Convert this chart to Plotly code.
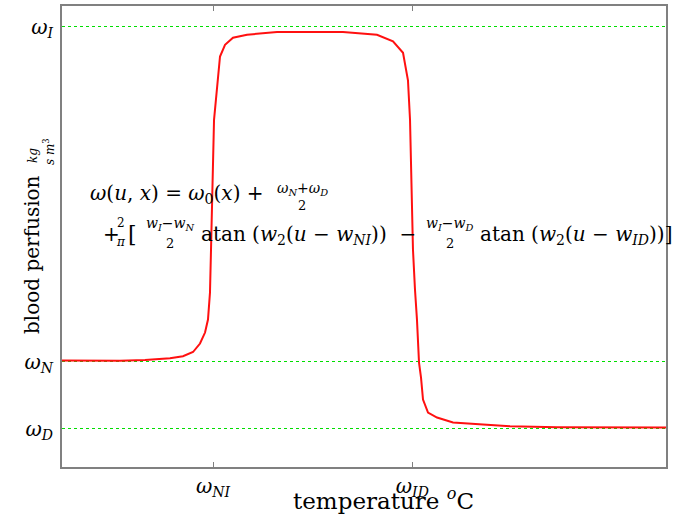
import plotly.graph_objects as go

# ---- data ----
temperature = [0, 9.6, 13.74, 17.88, 20.03, 21.69, 22.85, 23.68, 24.17, 24.5, 24.67,
               25.17, 26.16, 26.99, 28.31, 30.63, 35.6, 41.06, 46.52, 52.15, 54.8,
               56.46, 57.28, 57.62, 58.11, 58.44, 58.77, 59.11, 59.44, 59.77, 60.6,
               62.09, 64.74, 69.7, 74.17, 81.95, 90.73, 100]
perfusion = [1.015, 1.01, 1.022, 1.049, 1.079, 1.142, 1.269, 1.433, 1.627, 2.03, 2.67,
             4.61, 5.556, 5.731, 5.836, 5.881, 5.921, 5.925, 5.921, 5.881, 5.781,
             5.612, 5.201, 4.612, 2.67, 2.075, 1.627, 0.985, 0.761, 0.433, 0.239,
             0.164, 0.09, 0.06, 0.034, 0.019, 0.016, 0.015]

y_tick_vals = [0, 1, 6]
y_tick_text = ["<i>ω<sub>D</sub></i>", "<i>ω<sub>N</sub></i>", "<i>ω<sub>I</sub></i>"]
x_tick_vals = [25, 58]
x_tick_text = ["<i>ω<sub>NI</sub></i>", "<i>ω<sub>ID</sub></i>"]

FONT = "DejaVu Serif"
W, H = 687, 517
L, R, T, B = 62, 666, 6, 467


def px(x):
    return (x - L) / (R - L)


def py(y):
    return (B - y) / (B - T)


fig = go.Figure()
fig.add_trace(go.Scatter(x=temperature, y=perfusion, mode="lines",
                         line=dict(color="#ff1010", width=2), showlegend=False))

axis_common = dict(showline=True, linecolor="#808080", linewidth=2, mirror="ticks",
                   ticks="inside", ticklen=5, tickcolor="#808080", zeroline=False,
                   automargin=False,
                   tickfont=dict(family=FONT, size=20, color="black"))
fig.update_xaxes(range=[0, 100], tickvals=x_tick_vals, ticktext=x_tick_text,
                 showgrid=False, ticklabelstandoff=0, **axis_common)
fig.update_yaxes(range=[-0.575, 6.31], tickvals=y_tick_vals, ticktext=y_tick_text,
                 showgrid=True, gridcolor="#00dd00", griddash="dot", gridwidth=1,
                 ticklabelstandoff=3, **axis_common)
fig.update_yaxes(ticks="")

ann = []


def text(x, y, s, size=20, xanchor="left", angle=0):
    ann.append(dict(x=px(x), y=py(y), xref="paper", yref="paper", text=s,
                    showarrow=False, xanchor=xanchor, yanchor="middle",
                    textangle=angle, font=dict(family=FONT, size=size, color="black")))


# formula line 1
text(88, 194, "<i>ω</i>(<i>u</i>, <i>x</i>) = <i>ω</i><sub>0</sub>(<i>x</i>) + ")
text(302, 189, "<i>ω<sub>N</sub></i>+<i>ω<sub>D</sub></i>", size=14, xanchor="center")
text(302, 206, "2", size=13, xanchor="center")
# formula line 2
text(101, 234, "+")
text(121, 223, "2", size=12, xanchor="center")
text(121, 242, "<i>π</i>", size=12, xanchor="center")
text(126, 234, "[", size=22)
text(170, 224, "<i>w<sub>I</sub></i>−<i>w<sub>N</sub></i>", size=14, xanchor="center")
text(170, 244, "2", size=13, xanchor="center")
text(199, 235, "atan (<i>w</i><sub>2</sub>(<i>u</i> − <i>w<sub>NI</sub></i>))  −")
text(450, 224, "<i>w<sub>I</sub></i>−<i>w<sub>D</sub></i>", size=14, xanchor="center")
text(450, 244, "2", size=13, xanchor="center")
text(478, 235, "atan (<i>w</i><sub>2</sub>(<i>u</i> − <i>w<sub>ID</sub></i>))]")

# axis titles
text(32, 255, "blood perfusion", size=20, xanchor="center", angle=-90)
text(33, 156, "<i>kg</i>", size=12, xanchor="center", angle=-90)
text(49, 152, "<i>s m</i><sup>3</sup>", size=12, xanchor="center", angle=-90)
text(383, 499, "temperature <sup><i>o</i></sup>C", size=23, xanchor="center")

fig.update_layout(width=W, height=H, margin=dict(l=L, r=W - R, t=T, b=H - B),
                  plot_bgcolor="white", paper_bgcolor="white", annotations=ann,
                  font=dict(family=FONT, color="black"))
fig.write_html("out.html", config={"displayModeBar": False},
               post_script="document.body.style.margin='0';")
